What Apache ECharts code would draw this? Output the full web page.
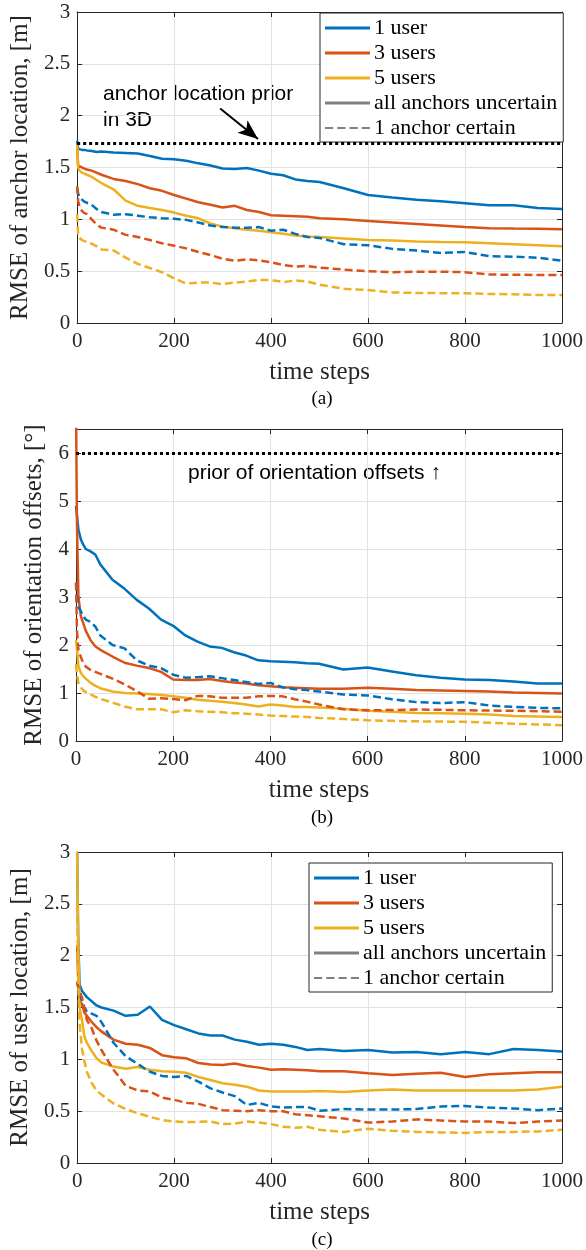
<!DOCTYPE html>
<html>
<head>
<meta charset="utf-8">
<script src="https://cdn.jsdelivr.net/npm/echarts@6/dist/echarts.min.js"></script>
<style>
  html, body { margin: 0; padding: 0; background: #fff; }
  #chart { width: 586px; height: 1250px; }
</style>
</head>
<body>
<div id="chart"></div>
<script>
// time steps shared by all three panels
const steps = [0, 2, 5, 10, 15, 20, 30, 40, 50, 75, 100, 125, 150, 175, 200, 225, 250, 275, 300, 325, 350, 375, 400, 425, 450, 475, 500, 550, 600, 650, 700, 750, 800, 850, 900, 950, 1000]

// (a) RMSE of anchor location [m]
const anchorUser1 = [1.76, 1.68, 1.675, 1.67, 1.67, 1.665, 1.66, 1.65, 1.655, 1.645, 1.64, 1.635, 1.61, 1.585, 1.58, 1.565, 1.54, 1.52, 1.49, 1.485, 1.495, 1.47, 1.44, 1.425, 1.385, 1.37, 1.36, 1.30, 1.235, 1.21, 1.19, 1.175, 1.155, 1.135, 1.135, 1.11, 1.10]
const anchorUser3 = [1.7, 1.52, 1.51, 1.50, 1.49, 1.48, 1.47, 1.45, 1.43, 1.39, 1.37, 1.34, 1.30, 1.275, 1.235, 1.20, 1.165, 1.14, 1.115, 1.13, 1.09, 1.07, 1.04, 1.035, 1.03, 1.025, 1.01, 1.0, 0.985, 0.97, 0.955, 0.94, 0.925, 0.915, 0.912, 0.91, 0.905]
const anchorUser5 = [1.72, 1.50, 1.47, 1.45, 1.44, 1.43, 1.41, 1.38, 1.35, 1.29, 1.18, 1.13, 1.11, 1.09, 1.065, 1.035, 1.01, 0.96, 0.93, 0.915, 0.90, 0.89, 0.875, 0.86, 0.845, 0.835, 0.83, 0.815, 0.80, 0.795, 0.785, 0.782, 0.78, 0.77, 0.76, 0.75, 0.74]
const anchorUser1Cert = [1.3, 1.25, 1.21, 1.19, 1.17, 1.16, 1.14, 1.10, 1.07, 1.045, 1.05, 1.035, 1.02, 1.01, 1.005, 0.995, 0.97, 0.94, 0.925, 0.92, 0.92, 0.925, 0.89, 0.90, 0.86, 0.83, 0.82, 0.76, 0.75, 0.715, 0.70, 0.675, 0.685, 0.645, 0.64, 0.63, 0.60]
const anchorUser3Cert = [1.32, 1.18, 1.12, 1.08, 1.06, 1.05, 1.0, 0.95, 0.92, 0.90, 0.85, 0.83, 0.80, 0.77, 0.745, 0.72, 0.685, 0.655, 0.62, 0.60, 0.615, 0.605, 0.585, 0.56, 0.545, 0.55, 0.535, 0.515, 0.50, 0.49, 0.495, 0.495, 0.49, 0.468, 0.465, 0.464, 0.464]
const anchorUser5Cert = [1.05, 0.86, 0.82, 0.80, 0.79, 0.78, 0.765, 0.74, 0.71, 0.70, 0.63, 0.57, 0.53, 0.49, 0.43, 0.38, 0.39, 0.39, 0.375, 0.39, 0.40, 0.415, 0.415, 0.395, 0.41, 0.40, 0.37, 0.33, 0.318, 0.295, 0.29, 0.288, 0.286, 0.28, 0.278, 0.27, 0.27]
const anchorPrior = 1.732

// (b) RMSE of orientation offsets [deg]
const orientUser1 = [4.9, 4.7, 4.4, 4.2, 4.09, 4.0, 3.95, 3.88, 3.68, 3.36, 3.17, 2.94, 2.76, 2.53, 2.40, 2.2, 2.07, 1.97, 1.94, 1.85, 1.78, 1.68, 1.66, 1.65, 1.64, 1.62, 1.61, 1.49, 1.53, 1.45, 1.37, 1.32, 1.28, 1.27, 1.24, 1.20, 1.20]
const orientUser3 = [7.0, 4.5, 3.0, 2.6, 2.45, 2.3, 2.1, 1.97, 1.9, 1.76, 1.63, 1.57, 1.52, 1.44, 1.28, 1.27, 1.27, 1.29, 1.25, 1.22, 1.2, 1.16, 1.14, 1.12, 1.11, 1.10, 1.09, 1.09, 1.11, 1.09, 1.06, 1.05, 1.04, 1.03, 1.01, 1.0, 0.99]
const orientUser5 = [2.1, 1.9, 1.56, 1.42, 1.35, 1.3, 1.21, 1.15, 1.10, 1.03, 1.0, 0.99, 0.98, 0.96, 0.93, 0.9, 0.86, 0.84, 0.82, 0.79, 0.76, 0.72, 0.76, 0.74, 0.71, 0.71, 0.70, 0.67, 0.63, 0.61, 0.585, 0.58, 0.57, 0.55, 0.52, 0.51, 0.50]
const orientUser1Cert = [3.3, 3.0, 2.8, 2.7, 2.6, 2.53, 2.48, 2.38, 2.2, 2.0, 1.93, 1.68, 1.57, 1.52, 1.38, 1.32, 1.33, 1.35, 1.31, 1.27, 1.23, 1.19, 1.21, 1.12, 1.08, 1.06, 1.03, 0.97, 0.95, 0.87, 0.81, 0.79, 0.81, 0.74, 0.71, 0.69, 0.68]
const orientUser3Cert = [3.3, 2.3, 1.9, 1.75, 1.62, 1.55, 1.48, 1.44, 1.40, 1.30, 1.18, 1.04, 0.88, 0.89, 0.875, 0.85, 0.94, 0.93, 0.9, 0.9, 0.9, 0.93, 0.94, 0.93, 0.87, 0.82, 0.76, 0.66, 0.64, 0.645, 0.655, 0.65, 0.64, 0.635, 0.63, 0.62, 0.61]
const orientUser5Cert = [1.6, 1.4, 1.21, 1.12, 1.05, 1.02, 0.97, 0.92, 0.88, 0.8, 0.72, 0.66, 0.66, 0.66, 0.6, 0.64, 0.62, 0.61, 0.6, 0.58, 0.57, 0.55, 0.53, 0.52, 0.51, 0.5, 0.48, 0.46, 0.43, 0.42, 0.41, 0.405, 0.40, 0.38, 0.36, 0.345, 0.33]
const orientPrior = 6

// (c) RMSE of user location [m]
const userUser1 = [3.0, 2.2, 1.72, 1.66, 1.63, 1.6, 1.56, 1.52, 1.50, 1.47, 1.42, 1.43, 1.51, 1.38, 1.33, 1.29, 1.25, 1.23, 1.23, 1.19, 1.17, 1.14, 1.15, 1.14, 1.12, 1.09, 1.10, 1.08, 1.09, 1.065, 1.07, 1.05, 1.07, 1.05, 1.10, 1.09, 1.075]
const userUser3 = [2.1, 1.8, 1.58, 1.53, 1.45, 1.42, 1.36, 1.31, 1.27, 1.19, 1.15, 1.14, 1.11, 1.04, 1.02, 1.01, 0.965, 0.95, 0.945, 0.96, 0.935, 0.92, 0.90, 0.905, 0.90, 0.895, 0.885, 0.885, 0.865, 0.85, 0.86, 0.87, 0.83, 0.855, 0.865, 0.875, 0.875]
const userUser5 = [3.0, 2.2, 1.5, 1.38, 1.22, 1.16, 1.08, 1.01, 0.97, 0.93, 0.91, 0.925, 0.90, 0.885, 0.88, 0.87, 0.83, 0.80, 0.77, 0.755, 0.735, 0.70, 0.69, 0.69, 0.69, 0.69, 0.695, 0.685, 0.70, 0.71, 0.70, 0.70, 0.70, 0.70, 0.70, 0.71, 0.735]
const userUser1Cert = [1.75, 1.7, 1.66, 1.55, 1.5, 1.46, 1.44, 1.42, 1.36, 1.16, 1.03, 0.955, 0.88, 0.84, 0.83, 0.84, 0.785, 0.72, 0.68, 0.645, 0.56, 0.58, 0.545, 0.535, 0.54, 0.54, 0.505, 0.52, 0.516, 0.516, 0.52, 0.545, 0.55, 0.535, 0.526, 0.51, 0.526]
const userUser3Cert = [1.75, 1.7, 1.65, 1.6, 1.48, 1.38, 1.3, 1.18, 1.09, 0.90, 0.745, 0.70, 0.69, 0.63, 0.61, 0.58, 0.57, 0.54, 0.51, 0.505, 0.50, 0.51, 0.50, 0.50, 0.47, 0.46, 0.45, 0.43, 0.39, 0.40, 0.42, 0.41, 0.40, 0.40, 0.385, 0.40, 0.41]
const userUser5Cert = [2.5, 1.8, 1.35, 1.1, 0.98, 0.88, 0.77, 0.7, 0.66, 0.575, 0.52, 0.48, 0.445, 0.415, 0.40, 0.395, 0.397, 0.40, 0.375, 0.38, 0.40, 0.39, 0.375, 0.35, 0.34, 0.35, 0.32, 0.30, 0.33, 0.31, 0.30, 0.295, 0.29, 0.30, 0.30, 0.305, 0.32]

const userNames = ['1 user', '3 users', '5 users']
const colors = ['#0072BD', '#D95319', '#EDB120']
const grey = '#808080'
const serif = '"Liberation Serif", "Times New Roman", serif'
const sans = '"Liberation Sans", Arial, sans-serif'
const axisColor = '#262626'

const chart = echarts.init(document.getElementById('chart'))

// grid boxes in pixels
const grids = [
  { left: 76, width: 488, top: 12, height: 311 },
  { left: 76, width: 488, top: 429, height: 312 },
  { left: 76, width: 488, top: 852, height: 311 }
]
const yTitles = ['RMSE of anchor location, [m]', 'RMSE of orientation offsets, [°]', 'RMSE of user location, [m]']
const yMax = [3, 6.5, 3]
const yStep = [0.5, 1, 0.5]
const yGap = [44, 29, 44]

const tickStyle = { inside: true, length: 5, lineStyle: { color: axisColor } }
const lineAx = { show: true, onZero: false, lineStyle: { color: axisColor, width: 1 } }
const labelStyle = { fontFamily: serif, fontSize: 21, color: axisColor }
const gridLine = { show: true, lineStyle: { color: '#e2e2e2', width: 1 } }

const xAxes = []
const yAxes = []
grids.forEach((g, i) => {
  xAxes.push({
    gridIndex: i, type: 'value', min: 0, max: 1000, interval: 200, position: 'bottom',
    axisLine: lineAx, axisTick: tickStyle, splitLine: gridLine,
    axisLabel: { ...labelStyle, margin: 8, formatter: v => String(v) },
    name: 'time steps', nameLocation: 'middle', nameGap: 37,
    nameTextStyle: { fontFamily: serif, fontSize: 25, color: axisColor }
  })
  xAxes.push({
    gridIndex: i, type: 'value', min: 0, max: 1000, interval: 200, position: 'top',
    axisLine: lineAx, axisTick: tickStyle, splitLine: { show: false }, axisLabel: { show: false }
  })
  yAxes.push({
    gridIndex: i, type: 'value', min: 0, max: yMax[i], interval: yStep[i], position: 'left',
    axisLine: lineAx, axisTick: tickStyle, splitLine: gridLine,
    axisLabel: { ...labelStyle, margin: 7, showMaxLabel: yMax[i] % yStep[i] === 0 },
    name: yTitles[i], nameLocation: 'middle', nameGap: yGap[i],
    nameTextStyle: { fontFamily: serif, fontSize: 25, color: axisColor }
  })
  yAxes.push({
    gridIndex: i, type: 'value', min: 0, max: yMax[i], interval: yStep[i], position: 'right',
    axisLine: lineAx, axisTick: tickStyle, splitLine: { show: false }, axisLabel: { show: false }
  })
})

const curve = (name, vals, color, dashed, gi) => ({
  name, type: 'line', xAxisIndex: gi * 2, yAxisIndex: gi * 2,
  data: steps.map((t, k) => [t, vals[k]]),
  showSymbol: false, symbol: 'none', silent: true, clip: true,
  lineStyle: { color, width: 2.5, type: dashed ? [8, 4] : 'solid' },
  itemStyle: { color }
})

const panels = [
  [anchorUser1, anchorUser3, anchorUser5, anchorUser1Cert, anchorUser3Cert, anchorUser5Cert],
  [orientUser1, orientUser3, orientUser5, orientUser1Cert, orientUser3Cert, orientUser5Cert],
  [userUser1, userUser3, userUser5, userUser1Cert, userUser3Cert, userUser5Cert]
]

const series = []
panels.forEach((p, gi) => {
  for (let k = 0; k < 3; k++) series.push(curve(userNames[k], p[k], colors[k], false, gi))
  for (let k = 0; k < 3; k++) series.push(curve(userNames[k], p[k + 3], colors[k], true, gi))
})

// legend-only entries for the line styles
series.push({ name: 'all anchors uncertain', type: 'line', data: [], xAxisIndex: 0, yAxisIndex: 0, lineStyle: { color: grey } })
series.push({ name: '1 anchor certain', type: 'line', data: [], xAxisIndex: 0, yAxisIndex: 0, lineStyle: { color: grey, type: [8, 4] } })

// dotted prior lines and the arrow in (a)
const dotted = { color: '#000', width: 3, type: [3, 3] }
series.push({
  type: 'line', data: [], xAxisIndex: 0, yAxisIndex: 0, silent: true,
  markLine: {
    silent: true, animation: false, symbol: 'none', label: { show: false },
    data: [
      { yAxis: anchorPrior, lineStyle: dotted },
      [
        { coord: [295, 2.07], symbol: 'none', lineStyle: { color: '#000', width: 2, type: 'solid' } },
        { coord: [373, 1.775], symbol: 'arrow', symbolSize: [12, 20] }
      ]
    ]
  }
})
series.push({
  type: 'line', data: [], xAxisIndex: 2, yAxisIndex: 2, silent: true,
  markLine: {
    silent: true, animation: false, symbol: 'none', label: { show: false },
    data: [{ yAxis: orientPrior, lineStyle: dotted }]
  }
})

const dashIcon = 'path://M0 0H8V2H0Z M12 0H20V2H12Z M24 0H32V2H24Z M36 0H44V2H36Z'
const legendData = [
  ...userNames.map((n, k) => ({ name: n, icon: 'rect', itemStyle: { color: colors[k] } })),
  { name: 'all anchors uncertain', icon: 'rect', itemStyle: { color: grey } },
  { name: '1 anchor certain', icon: dashIcon, itemStyle: { color: grey } }
]
const legendBase = {
  orient: 'vertical', selectedMode: false, data: legendData,
  itemWidth: 45, itemHeight: 3, itemGap: 3, align: 'left',
  textStyle: { fontFamily: serif, fontSize: 22, color: '#000', padding: [0, 0, 0, -1] },
  borderColor: axisColor, borderWidth: 1, backgroundColor: '#fff',
  padding: [4, 6, 3, 5]
}

const textEl = (x, y, text, font, align) => ({
  type: 'text', x, y, silent: true,
  style: { text, font, fill: '#000', align: align || 'left', verticalAlign: 'middle' }
})

chart.setOption({
  animation: false,
  grid: grids,
  xAxis: xAxes,
  yAxis: yAxes,
  legend: [
    { ...legendBase, left: 320, top: 13 },
    { ...legendBase, left: 309, top: 863 }
  ],
  series,
  graphic: [
    textEl(103, 94, 'anchor location prior', '21px ' + sans),
    textEl(103, 120, 'in 3D', '21px ' + sans),
    textEl(188, 473, 'prior of orientation offsets ↑', '21px ' + sans),
    textEl(322, 399, '(a)', '19px ' + serif, 'center'),
    textEl(322, 818, '(b)', '19px ' + serif, 'center'),
    textEl(322, 1240, '(c)', '19px ' + serif, 'center')
  ]
})
</script>
</body>
</html>
